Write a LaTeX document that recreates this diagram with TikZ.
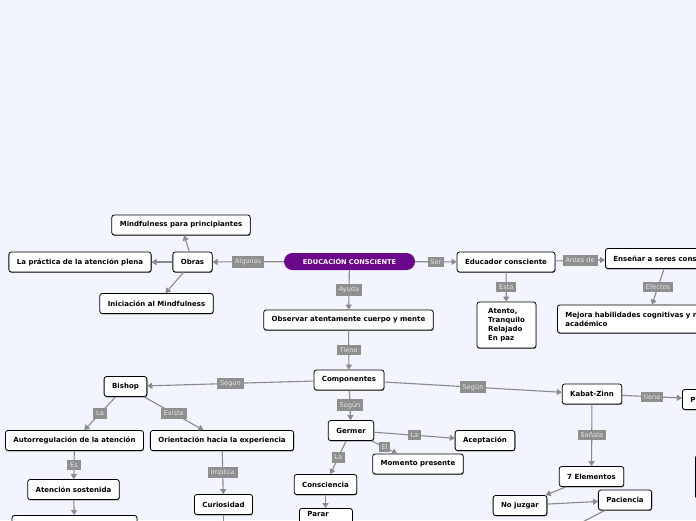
\documentclass[tikz,border=0pt]{standalone}
\usepackage{fontspec}
\setmainfont{DejaVu Sans}
\usepackage{xcolor}
\usepackage{tikz}
\usetikzlibrary{arrows.meta, shadows, calc}
\definecolor{mapbg}{RGB}{242, 244, 254}
\definecolor{mappurple}{RGB}{107, 8, 138}
\definecolor{mapgray}{RGB}{138, 138, 138}
\definecolor{maplabel}{RGB}{143, 143, 143}

\begin{document}
\begin{tikzpicture}[x=1pt, y=-1pt,
    topic/.style={draw=black, line width=0.8pt, fill=white, rounded corners=2.5pt,
        font=\fontsize{7}{8.8}\selectfont\bfseries, inner xsep=8pt, minimum height=20pt,
        drop shadow={shadow xshift=0.4pt, shadow yshift=-0.9pt, fill=black, opacity=0.55}},
    root/.style={fill=mappurple, rounded corners=8.5pt, text=white,
        font=\fontsize{6.6}{8}\selectfont\bfseries, minimum width=131pt, minimum height=17pt},
    lab/.style={fill=maplabel, text=white!90!black, font=\fontsize{6.6}{7.5}\selectfont,
        inner xsep=2.8pt, inner ysep=2.6pt},
    conn/.style={draw=mapgray, line width=1.1pt, -{Triangle[length=5pt, width=6pt]}}]

    % Background and frame
    \useasboundingbox (0,0) rectangle (696,520);
    \fill[mapbg] (0,0) rectangle (696,520);
    \clip (0,0) rectangle (696,520);

    % Draw central topic
    \node[root] (Edu) at (349.5,261.5) {EDUCACIÓN CONSCIENTE};

    % Draw left branch (Obras)
    \node[topic] (Obras) at (192.5,262) {Obras};
    \node[topic] (Mindful) at (181,225) {Mindfulness para principiantes};
    \node[topic] (Practica) at (80,262) {La práctica de la atención plena};
    \node[topic] (Iniciacion) at (156.5,303.5) {Iniciación al Mindfulness};

    % Draw right branch (Educador)
    \node[topic] (Educador) at (506,262) {Educador consciente};
    \node[topic, anchor=west] (Ensenar) at (605,258.5) {Enseñar a seres conscientes};
    \node[topic, anchor=west, align=left, minimum height=28pt] (Mejora) at (557,319)
        {Mejora habilidades cognitivas y rendimiento\\académico};
    \node[topic, align=left, minimum height=46pt, minimum width=59pt] (Atento) at (506.5,325)
        {Atento,\\Tranquilo\\Relajado\\En paz};

    % Draw middle column
    \node[topic] (Observar) at (348.5,320) {Observar atentamente cuerpo y mente};
    \node[topic] (Comp) at (349,380) {Componentes};

    % Draw Bishop branch
    \node[topic] (Bishop) at (125.5,386.5) {Bishop};
    \node[topic] (Autorreg) at (74.5,440.5) {Autorregulación de la atención};
    \node[topic] (Orient) at (222,440.5) {Orientación hacia la experiencia};
    \node[topic] (AtSost) at (73.5,489.5) {Atención sostenida};
    \node[topic] (Curiosidad) at (223.5,504.5) {Curiosidad};
    \node[topic, anchor=north, minimum width=125pt, minimum height=25pt] (HidA) at (74.5,515) {};
    \coordinate (CurEnd) at (223.5,530);

    % Draw Germer branch
    \node[topic] (Germer) at (351,430.5) {Germer};
    \node[topic] (Aceptacion) at (485,440.5) {Aceptación};
    \node[topic] (Momento) at (418,464) {Momento presente};
    \node[topic] (Consciencia) at (325.5,484.5) {Consciencia};
    \node[topic, anchor=north west, text width=37pt, align=left, text depth=14pt] (Parar) at (299,508) {Parar};

    % Draw Kabat-Zinn branch
    \node[topic] (Kabat) at (592,394) {Kabat-Zinn};
    \node[topic, anchor=west, text width=50pt, align=left] (PBox) at (682,399.5) {P};
    \node[topic] (Siete) at (591.5,476.5) {7 Elementos};
    \node[topic] (NoJuzgar) at (520,505.5) {No juzgar};
    \node[topic] (Paciencia) at (625,500) {Paciencia};
    \node[topic, anchor=north west, minimum width=50pt, minimum height=43pt] (HidB) at (695,455) {};
    \coordinate (PacEnd) at (571,528);

    % Draw connections
    \draw[conn] (Edu) -- node[lab] {Algunas} (Obras);
    \draw[conn] (Obras) -- (Mindful);
    \draw[conn] (Obras) -- (Practica);
    \draw[conn] (Obras) -- (Iniciacion);
    \draw[conn] (Edu) -- node[lab] {Ser} (Educador);
    \draw[conn] (Educador) -- node[lab] {Antes de} (Ensenar);
    \draw[conn] ($(Ensenar.south west)+(59,0)$) -- node[lab] {Efectos} ($(Mejora.north west)+(95,0)$);
    \draw[conn] (Educador) -- node[lab] {Esta} (Atento);
    \draw[conn] (Edu) -- node[lab] {Ayuda} (Observar);
    \draw[conn] (Observar) -- node[lab] {Tiene} (Comp);
    \draw[conn] (Comp) -- node[lab] {Según} (Bishop);
    \draw[conn] (Bishop) -- node[lab] {La} (Autorreg);
    \draw[conn] (Bishop) -- node[lab] {Existe} (Orient);
    \draw[conn] (Autorreg) -- node[lab] {Es} (AtSost);
    \draw[conn] (AtSost) -- (HidA);
    \draw[conn] (Orient) -- node[lab] {Implica} (Curiosidad);
    \draw[conn] (Curiosidad) -- (CurEnd);
    \draw[conn] (Comp) -- node[lab] {Según} (Germer);
    \draw[conn] (Germer) -- node[lab] {La} (Aceptacion);
    \draw[conn] (Germer) -- node[lab] {El} (Momento);
    \draw[conn] (Germer) -- node[lab] {La} (Consciencia);
    \draw[conn] (Consciencia) -- (Parar.north -| Consciencia);
    \draw[conn] (Comp) -- node[lab] {Según} (Kabat);
    \draw[conn] (Kabat) -- node[lab] {tiene} (PBox);
    \draw[conn] (Kabat) -- node[lab] {Señala} (Siete);
    \draw[conn] (Siete) -- (NoJuzgar);
    \draw[conn] (NoJuzgar) -- (Paciencia);
    \draw[conn] (Paciencia) -- (PacEnd);
\end{tikzpicture}
\end{document}
